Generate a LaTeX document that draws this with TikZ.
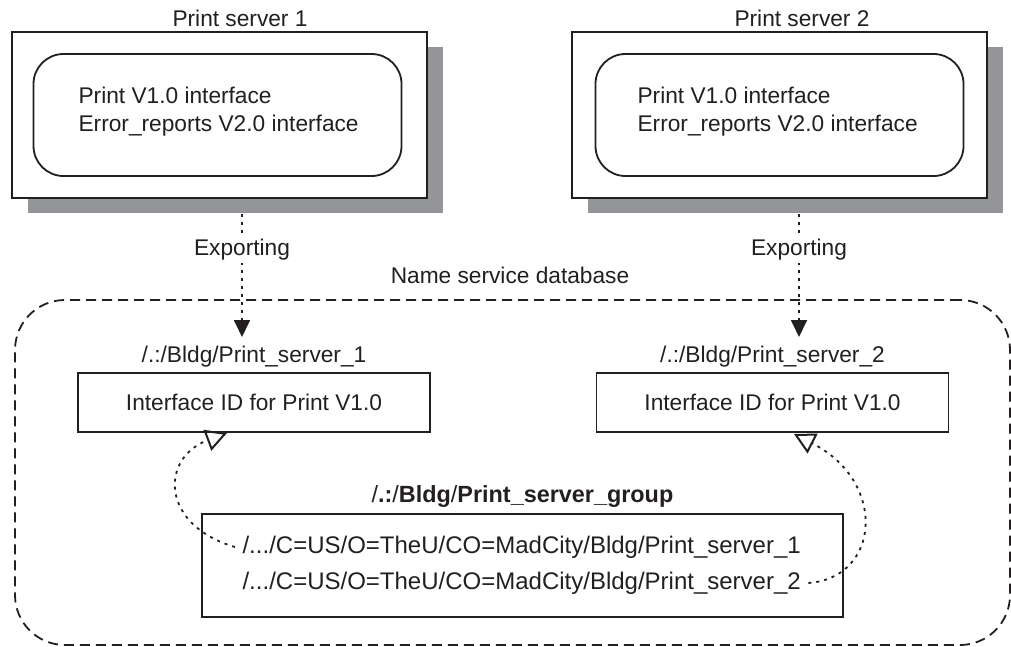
\documentclass[tikz,border=0pt]{standalone}
\usepackage{fontspec}
\setmainfont{Liberation Sans}
\usetikzlibrary{arrows.meta, positioning}
\definecolor{inkgray}{HTML}{231F20}
\definecolor{shadegray}{HTML}{939598}

\begin{document}
\begin{tikzpicture}[x=0.5pt, y=-0.5pt, line width=0.9pt, color=inkgray,
    font=\fontsize{11.35}{14}\selectfont,
    shadebox/.style={fill=shadegray, draw=none, minimum height=83pt, inner sep=0pt},
    srvbox/.style={draw, fill=white, minimum height=83pt, inner sep=0pt},
    coreround/.style={draw, rounded corners=15pt, minimum height=61pt, inner sep=0pt},
    idbox/.style={draw, minimum width=176pt, minimum height=29.5pt},
    dbbox/.style={draw, dash pattern=on 5pt off 3pt, rounded corners=25pt,
                  minimum width=497.5pt, minimum height=172.5pt},
    grpbox/.style={draw, minimum width=320.5pt, minimum height=51.5pt},
    member/.style={anchor=west, font=\fontsize{12}{14}\selectfont},
    exparrow/.style={-{Triangle[length=8.5pt, width=8pt]}, line width=0.9pt,
                     dash pattern=on 1.5pt off 2.5pt},
    refarrow/.style={-{Triangle[open, length=10.5pt, width=11pt, line width=1pt]},
                     line width=0.9pt, dash pattern=on 1.5pt off 2.5pt}]

  \useasboundingbox (0,0) rectangle (1011,647);

  % Print servers
  \foreach \n/\lx/\w/\ix/\cx/\tx in {1/12/415/71/217.5/240, 2/572/415/630/779.5/802} {
    \node[shadebox, minimum width=\w*0.5pt] (sh\n) at ({\lx+16+\w/2},130) {};
    \node[srvbox, minimum width=\w*0.5pt] (srv\n) at ({\lx+\w/2},115) {};
    \node[coreround, minimum width=184pt] (core\n) at (\cx,115) {};
    \node[anchor=west, align=left] (ifcs\n) at (\ix,112)
      {Print V1.0 interface\\Error\_reports V2.0 interface};
    \node (title\n) at (\tx,18) {Print server \n};
  }

  % Name service database
  \node[dbbox] (nsdb) at (512.5,472.5) {};
  \node (nsdbtitle) at (510,275) {Name service database};

  % Exporting
  \foreach \n/\ax in {1/242, 2/799} {
    \coordinate (tip\n) at (\ax,337);
    \draw[exparrow] (sh\n.south -| tip\n) -- (tip\n);
    \node[fill=white, inner sep=1pt] (exp\n) at (\ax,250) {Exporting};
  }

  % Server entries
  \foreach \n/\cx in {1/254, 2/772.5} {
    \node[idbox] (id\n) at (\cx,402.5) {Interface ID for Print V1.0};
    \node (path\n) at (\cx,357) {/.:/Bldg/Print\_server\_\n};
  }

  % Group entry
  \node[grpbox] (grp) at (522.5,565.5) {};
  \node[font=\fontsize{11.7}{14}\selectfont] (grptitle) at (522.5,496)
    {/\textbf{.:}/\textbf{Bldg}/\textbf{Print\_server\_group}};
  \node[member] (mem1) at (235,547) {/.../C=US/O=TheU/CO=MadCity/Bldg/Print\_server\_1};
  \node[member] (mem2) at (235,583) {/.../C=US/O=TheU/CO=MadCity/Bldg/Print\_server\_2};

  \coordinate (ref1) at (227,433);
  \coordinate (ref2) at (794,434);
  \draw[refarrow] (mem1.west) .. controls (160,525) and (160,458) .. (ref1);
  \draw[refarrow] (mem2.east) .. controls (880,578) and (888,482) .. (ref2);

\end{tikzpicture}
\end{document}
